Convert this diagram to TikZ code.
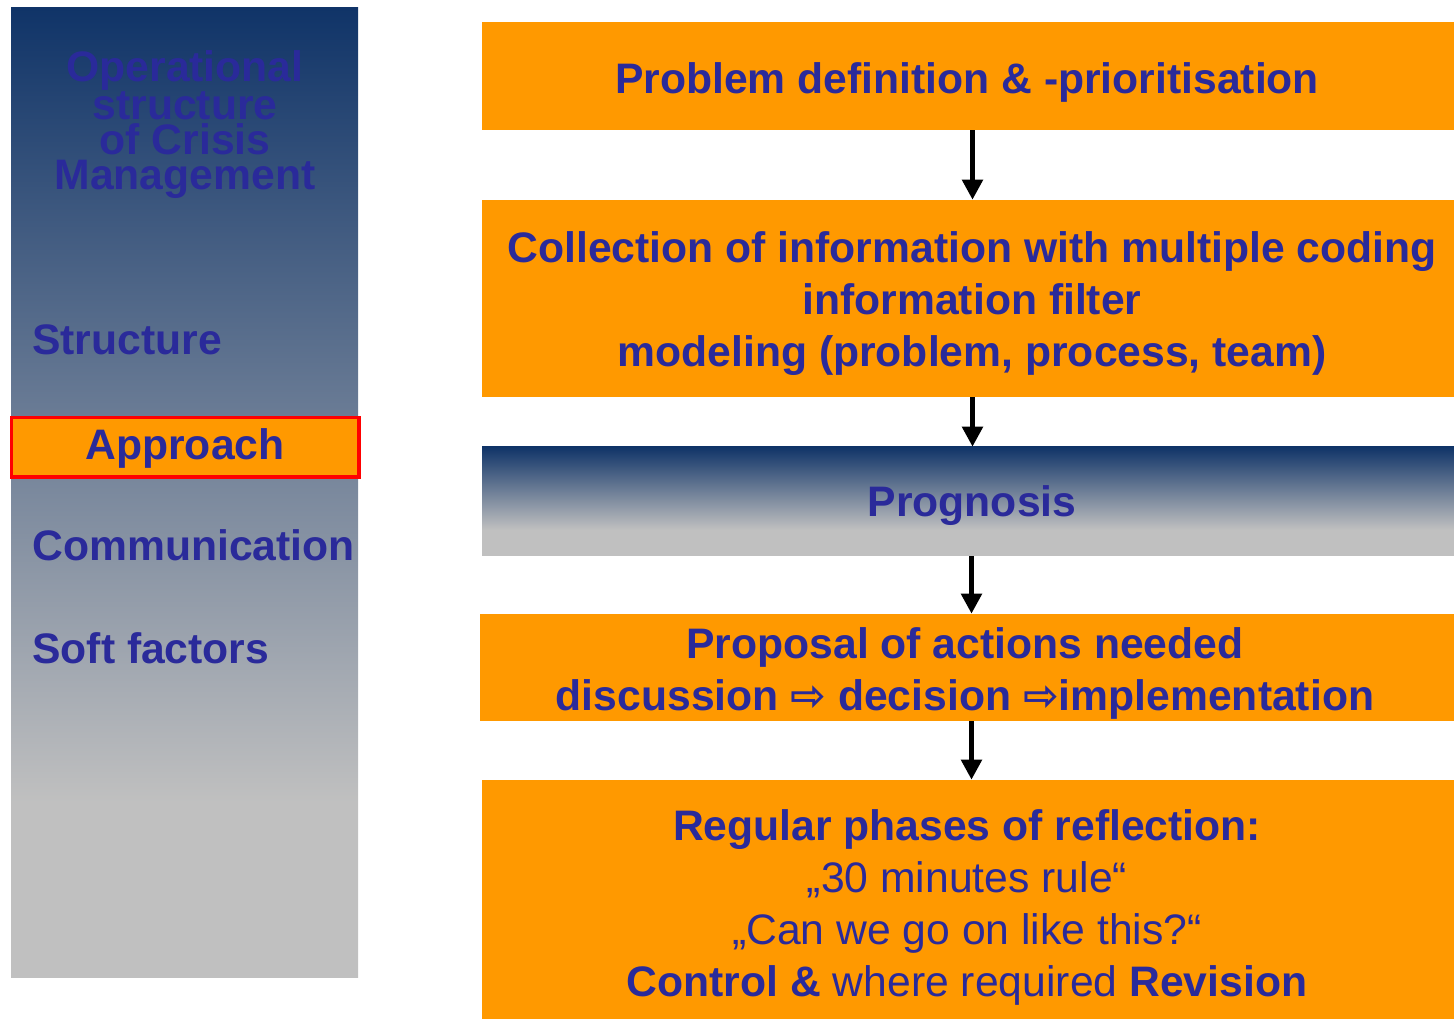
\documentclass[tikz,border=0pt]{standalone}
\usepackage{fontspec}
\setmainfont{Liberation Sans}
\newfontfamily\dvfont{DejaVu Sans}
\usetikzlibrary{fit,arrows.meta}
\definecolor{txtblue}{RGB}{42,42,154}
\definecolor{boxorange}{RGB}{255,153,0}
\definecolor{navytop}{RGB}{16,52,104}
\definecolor{lgray}{RGB}{192,192,192}
\definecolor{redborder}{RGB}{255,0,0}
\pgfdeclareverticalshading{leftsh}{100bp}{color(0bp)=(lgray); color(34bp)=(lgray); color(75bp)=(navytop); color(100bp)=(navytop)}
\pgfdeclareverticalshading{progsh}{100bp}{color(0bp)=(lgray); color(37bp)=(lgray); color(75bp)=(navytop); color(100bp)=(navytop)}
\tikzset{
  boxfill/.style={fill=boxorange, draw=none, inner sep=0pt},
  boxtext/.style={text=txtblue, inner sep=0pt, align=center,
    font=\fontsize{32}{39}\selectfont\bfseries},
  sidelabel/.style={anchor=west, inner sep=0pt, text=txtblue,
    font=\fontsize{32}{39}\selectfont\bfseries},
  flowarrow/.style={draw=black, line width=4.3pt, -{Triangle[length=15pt,width=15pt]}},
}
\begin{document}
\begin{tikzpicture}[x=0.75pt,y=-0.75pt]
\useasboundingbox (0,0) rectangle (1454,1019);
% left panel
\coordinate (lp1) at (11,8);
\coordinate (lp2) at (358,977);
\node[fit=(lp1)(lp2), inner sep=0pt, shading=leftsh, draw=none] (leftpanel) {};
\node[text=txtblue, align=center, inner sep=0pt,
  font=\fontsize{32}{26.25}\selectfont\bfseries] (title) at (185,125)
  {Operational\\structure\\of Crisis\\Management};
\node[sidelabel] (structure) at (32,340) {Structure};
\coordinate (ap1) at (11.5,417.5);
\coordinate (ap2) at (359,477);
\node[fit=(ap1)(ap2), inner sep=0pt, fill=boxorange, draw=redborder, line width=2.4pt] (approachbox) {};
\node[boxtext] (approach) at (185,448) {Approach};
\node[sidelabel] (communication) at (32,545) {Communication};
\node[sidelabel] (softfactors) at (32,648) {Soft factors};
% right boxes
\coordinate (b1a) at (482,22);   \coordinate (b1b) at (1454,130);
\coordinate (b2a) at (482,200);  \coordinate (b2b) at (1454,397);
\coordinate (b3a) at (482,447);  \coordinate (b3b) at (1454,556);
\coordinate (b4a) at (480,614);  \coordinate (b4b) at (1454,721);
\coordinate (b5a) at (482,780);  \coordinate (b5b) at (1454,1019);
\node[boxfill, fit=(b1a)(b1b)] (b1) {};
\node[boxtext] (t1) at (967,82) {Problem definition \& -prioritisation};
\node[boxfill, fit=(b2a)(b2b)] (b2) {};
\node[boxtext] (t2) at (972,304)
  {Collection of information with multiple coding\\information filter\\modeling (problem, process, team)};
\node[fit=(b3a)(b3b), inner sep=0pt, shading=progsh, draw=none] (b3) {};
\node[boxtext] (t3) at (972,506) {Prognosis};
\node[boxfill, fit=(b4a)(b4b)] (b4) {};
\node[boxtext] (t4) at (965,673)
  {Proposal of actions needed\\discussion {\dvfont\bfseries ⇨} decision {\dvfont\bfseries ⇨}implementation};
\node[boxfill, fit=(b5a)(b5b)] (b5) {};
\node[boxtext, font=\fontsize{32}{39}\selectfont] (t5) at (967,907)
  {\textbf{Regular phases of reflection:}\\„30 minutes rule“\\„Can we go on like this?“\\\textbf{Control \&} where required \textbf{Revision}};
% arrows
\coordinate (ax) at (972.5,0);
\coordinate (axb) at (971.5,0);
\draw[flowarrow] (b1.south -| ax) -- (b2.north -| ax);
\draw[flowarrow] (b2.south -| ax) -- (b3.north -| ax);
\draw[flowarrow] (b3.south -| axb) -- (b4.north -| axb);
\draw[flowarrow] (b4.south -| axb) -- (b5.north -| axb);
\end{tikzpicture}
\end{document}
